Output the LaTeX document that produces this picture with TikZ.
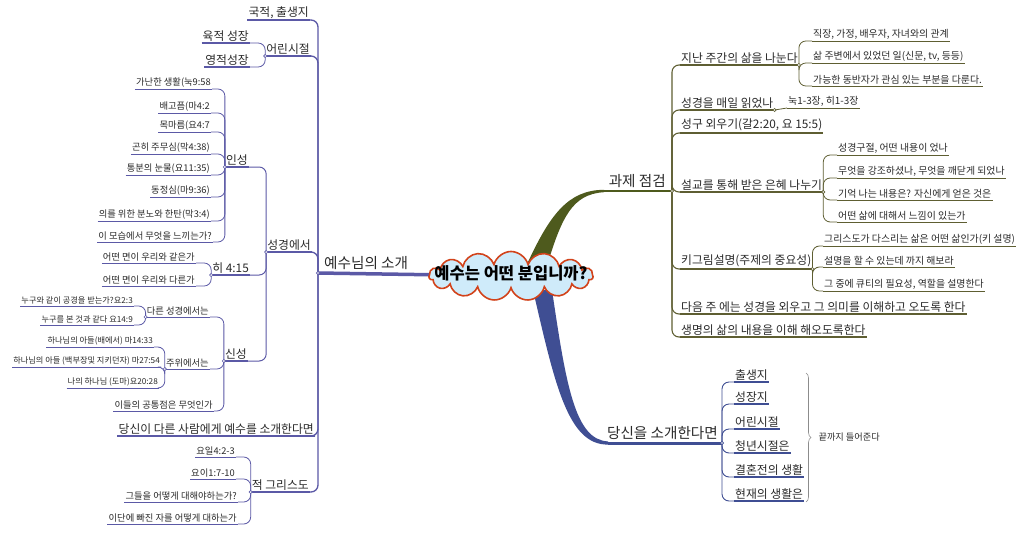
\documentclass[tikz,border=0pt]{standalone}
\usepackage{fontspec}
\setmainfont{Noto Sans CJK KR}
\usetikzlibrary{shapes.symbols,backgrounds,decorations.pathreplacing}

\definecolor{purp}{HTML}{5B59A6}
\definecolor{olivebr}{HTML}{4E5A1D}
\definecolor{oliveln}{HTML}{5E5E32}
\definecolor{bluebr}{HTML}{3F4E93}
\definecolor{cloudfill}{HTML}{CFEBFA}
\definecolor{cloudline}{HTML}{D2431B}
\definecolor{txt}{HTML}{2A2A2A}

\tikzset{
  fbig/.style={font=\fontsize{14.6}{17}\selectfont},
  fmid/.style={font=\fontsize{11.8}{14}\selectfont},
  fsml/.style={font=\fontsize{9.3}{11}\selectfont},
  fsmr/.style={font=\fontsize{9.9}{12}\selectfont},
  ftny/.style={font=\fontsize{8.2}{10}\selectfont},
  ul/.style 2 args={append after command={(\tikzlastnode.south west) edge[draw=#1, line width=#2] (\tikzlastnode.south east)}},
  lft/.style={anchor=south east, inner xsep=1pt, inner ysep=1.5pt, text=txt},
  rgt/.style={anchor=south west, inner xsep=1pt, inner ysep=1.5pt, text=txt},
  % left side (purple)
  pmid/.style={lft, fmid, ul={purp}{1.1pt}},
  pleaf/.style={lft, fsml, ul={purp}{0.7pt}},
  ptiny/.style={lft, ftny, ul={purp}{0.7pt}},
  plink/.style={draw=purp, line width=0.8pt, rounded corners=7pt},
  % right top (olive)
  omid/.style={rgt, fmid, ul={oliveln}{1.1pt}},
  oleaf/.style={rgt, fsmr, ul={oliveln}{0.7pt}},
  olink/.style={draw=oliveln, line width=0.8pt, rounded corners=7pt},
  % right bottom (blue)
  bmid/.style={rgt, fmid, ul={bluebr}{1.1pt}},
  blink/.style={draw=bluebr, line width=0.9pt, rounded corners=7pt},
  jdot/.style={fill=white, line width=0.6pt}
}

\begin{document}
\begin{tikzpicture}[x=1pt, y=-1pt]
  \useasboundingbox (0,0) rectangle (1024,533);

  % centre
  \node[cloud, cloud puffs=15, aspect=3.4, fill=cloudfill, draw=cloudline, line width=1.6pt,
        minimum width=164pt, minimum height=49pt, inner sep=0pt] (cl) at (511,276) {};
  \node[font=\bfseries\fontsize{16.5}{19}\selectfont] (ctr) at (511,273) {예수는 어떤 분입니까?};

  \coordinate (jl) at (318,273);
  \coordinate (jo) at (672,191);
  \coordinate (jb) at (722,443);
  \coordinate (ob1) at (528,262);
  \coordinate (ob2) at (548,262);
  \coordinate (oe1) at (604,189.8);
  \coordinate (oe2) at (604,192.2);
  \coordinate (bb1) at (533,290);
  \coordinate (bb2) at (552,290);
  \coordinate (be1) at (608,444.6);
  \coordinate (be2) at (608,441.4);

  \node[rgt, fbig] (sogae) at (323,271) {예수님의 소개};
  \node[lft, fbig] (gwaje) at (667,189) {과제 점검};
  \node[lft, fbig] (dsogae) at (719,441) {당신을 소개한다면};

  \begin{scope}[on background layer]
    \fill[white] (0,0) rectangle (1024,533);
    \draw[purp, line width=3.5pt] (jl) -- (cl.center);
    \fill[olivebr] (ob1) .. controls (550,215) and (568,190) .. (oe1) -- (oe2)
                   .. controls (572,194) and (562,218) .. (ob2) -- cycle;
    \draw[olivebr, line width=2.4pt] (oe1 |- jo) -- (jo);
    \fill[bluebr] (bb1) .. controls (555,385) and (568,445) .. (be1) -- (be2)
                  .. controls (575,440) and (566,385) .. (bb2) -- cycle;
    \draw[bluebr, line width=3pt] (be1 |- jb) -- (jb);
  \end{scope}

  % left: 예수님의 소개
  \node[pmid] (kukjeok) at (310,20) {국적, 출생지};
  \node[pmid] (eorin) at (311,56) {어린시절};
  \node[pmid] (yukjeok) at (250,43) {육적 성장};
  \node[pmid] (yeongjeok) at (250,67) {영적성장};
  \node[lft, fmid, ul={purp}{1.8pt}] (seonggy) at (312,252) {성경에서};
  \node[pmid] (inseong) at (249,167) {인성};
  \node[pleaf] (in1) at (212,89) {가난한 생활(눅9:58};
  \node[pleaf] (in2) at (211,113) {배고픔(마4:2};
  \node[pleaf] (in3) at (211,132) {목마름(요4:7};
  \node[pleaf] (in4) at (211,154) {곤히 주무심(막4:38)};
  \node[pleaf] (in5) at (211,175) {통분의 눈물(요11:35)};
  \node[pleaf] (in6) at (211,197) {동정심(마9:36)};
  \node[pleaf] (in7) at (211,221) {의를 위한 분노와 한탄(막3:4)};
  \node[pleaf] (in8) at (213,242) {이 모습에서 무엇을 느끼는가?};
  \node[pmid] (hi) at (250,275) {히 4:15};
  \node[pleaf] (hi1) at (196,263) {어떤 면이 우리와 같은가};
  \node[pleaf] (hi2) at (196,286) {어떤 면이 우리와 다른가};
  \node[pmid] (sinseong) at (248,361) {신성};
  \node[pleaf] (dareun) at (210,317) {다른 성경에서는};
  \node[ptiny] (dr1) at (134,306) {누구와 같이 공경을 받는가?요2:3};
  \node[ptiny] (dr2) at (134,325) {누구를 본 것과 같다 요14:9};
  \node[pleaf] (juwi) at (210,369) {주위에서는};
  \node[ptiny] (jw1) at (154,347) {하나님의 아들(배에서) 마14:33};
  \node[ptiny] (jw2) at (161,367) {하나님의 아들 (백부장및 지키던자) 마27:54};
  \node[ptiny] (jw3) at (159,388) {나의 하나님 (도마)요20:28};
  \node[pleaf] (gongtong) at (214,411) {이들의 공통점은 무엇인가};
  \node[pmid] (dangsin) at (315,436) {당신이 다른 사람에게 예수를 소개한다면};
  \node[pmid] (jeok) at (310,492) {적 그리스도};
  \node[pleaf] (jk1) at (236,457) {요일4:2-3};
  \node[pleaf] (jk2) at (236,479) {요이1:7-10};
  \node[pleaf] (jk3) at (238,502) {그들을 어떻게 대해야하는가?};
  \node[pleaf] (jk4) at (238,524) {이단에 빠진 자를 어떻게 대하는가};

  \foreach \c in {kukjeok,eorin,seonggy,dangsin,jeok}
    \draw[plink, line width=1.3pt] (jl) |- (\c.south east);
  \foreach \c in {yukjeok,yeongjeok}
    \draw[plink] (eorin.south west) |- (\c.south east);
  \foreach \c in {inseong,hi,sinseong}
    \draw[plink, line width=1pt] (seonggy.south west) |- (\c.south east);
  \foreach \i in {1,...,8}
    \draw[plink] (inseong.south west) |- (in\i.south east);
  \foreach \i in {1,2}
    \draw[plink] (hi.south west) |- (hi\i.south east);
  \foreach \c in {dareun,juwi,gongtong}
    \draw[plink] (sinseong.south west) |- (\c.south east);
  \foreach \i in {1,2}
    \draw[plink] (dareun.south west) |- (dr\i.south east);
  \foreach \i in {1,2,3}
    \draw[plink] (juwi.south west) |- (jw\i.south east);
  \foreach \i in {1,...,4}
    \draw[plink] (jeok.south west) |- (jk\i.south east);

  % right top: 과제 점검
  \node[omid] (jinan) at (680,65) {지난 주간의 삶을 나눈다};
  \node[oleaf] (jn1) at (812,41) {직장, 가정, 배우자, 자녀와의 관계};
  \node[oleaf] (jn2) at (812,63) {삶 주변에서 있었던 일(신문, tv, 등등)};
  \node[oleaf] (jn3) at (812,86) {가능한 동반자가 관심 있는 부분을 다룬다.};
  \node[omid] (ilgeot) at (680,110) {성경을 매일 읽었나};
  \node[oleaf] (nuk) at (787,108) {눅1-3장, 히1-3장};
  \node[omid] (seonggu) at (680,133) {성구 외우기(갈2:20, 요 15:5)};
  \node[omid] (seolgyo) at (680,192) {설교를 통해 받은 은혜 나누기};
  \node[oleaf] (sg1) at (837,155) {성경구절, 어떤 내용이 었나};
  \node[oleaf] (sg2) at (837,178) {무엇을 강조하셨나, 무엇을 깨닫게 되었나};
  \node[oleaf] (sg3) at (837,200) {기억 나는 내용은? 자신에게 얻은 것은};
  \node[oleaf] (sg4) at (837,222) {어떤 삶에 대해서 느낌이 있는가};
  \node[omid] (kigrim) at (680,269) {키그림설명(주제의 중요성)};
  \node[oleaf] (kg1) at (823,246) {그리스도가 다스리는 삶은 어떤 삶인가(키 설명)};
  \node[oleaf] (kg2) at (823,267) {설명을 할 수 있는데 까지 해보라};
  \node[oleaf] (kg3) at (823,291) {그 중에 큐티의 필요성, 역할을 설명한다};
  \node[omid] (daeum) at (680,314) {다음 주 에는 성경을 외우고 그 의미를 이해하고 오도록 한다};
  \node[omid] (saengm) at (680,337) {생명의 삶의 내용을 이해 해오도록한다};

  \foreach \c in {jinan,ilgeot,seonggu,seolgyo,kigrim,daeum,saengm}
    \draw[olink, line width=1.1pt] (jo) |- (\c.south west);
  \foreach \i in {1,2,3}
    \draw[olink] (jinan.south east) |- (jn\i.south west);
  \draw[olink] (ilgeot.south east) -- (nuk.south west);
  \foreach \i in {1,...,4}
    \draw[olink] (seolgyo.south east) |- (sg\i.south west);
  \foreach \i in {1,2,3}
    \draw[olink] (kigrim.south east) |- (kg\i.south west);

  % right bottom: 당신을 소개한다면
  \node[bmid] (ds1) at (734,382) {출생지};
  \node[bmid] (ds2) at (734,404) {성장지};
  \node[bmid] (ds3) at (734,429) {어린시절};
  \node[bmid] (ds4) at (734,453) {청년시절은};
  \node[bmid] (ds5) at (734,477) {결혼전의 생활};
  \node[bmid] (ds6) at (734,501) {현재의 생활은};
  \foreach \i in {1,...,6}
    \draw[blink] (jb) |- (ds\i.south west);

  \coordinate (br1) at (806,373);
  \coordinate (br2) at (806,502);
  \draw[decorate, decoration={brace, amplitude=5pt}, draw=black!45, line width=0.6pt] (br1) -- (br2);
  \node[font=\fontsize{9.2}{11}\selectfont, anchor=west, text=txt] (kkeut) at (815,437) {끝까지 들어준다};

  % junction dots
  \foreach \p in {jl, eorin.south west, seonggy.south west, inseong.south west, hi.south west,
                  sinseong.south west, dareun.south west, juwi.south west, jeok.south west}
    \draw[purp, jdot] (\p) circle (1.6pt);
  \foreach \p in {jo, jinan.south east, ilgeot.south east, seolgyo.south east, kigrim.south east}
    \draw[oliveln, jdot] (\p) circle (1.6pt);
  \draw[bluebr, jdot] (jb) circle (1.6pt);
\end{tikzpicture}
\end{document}
